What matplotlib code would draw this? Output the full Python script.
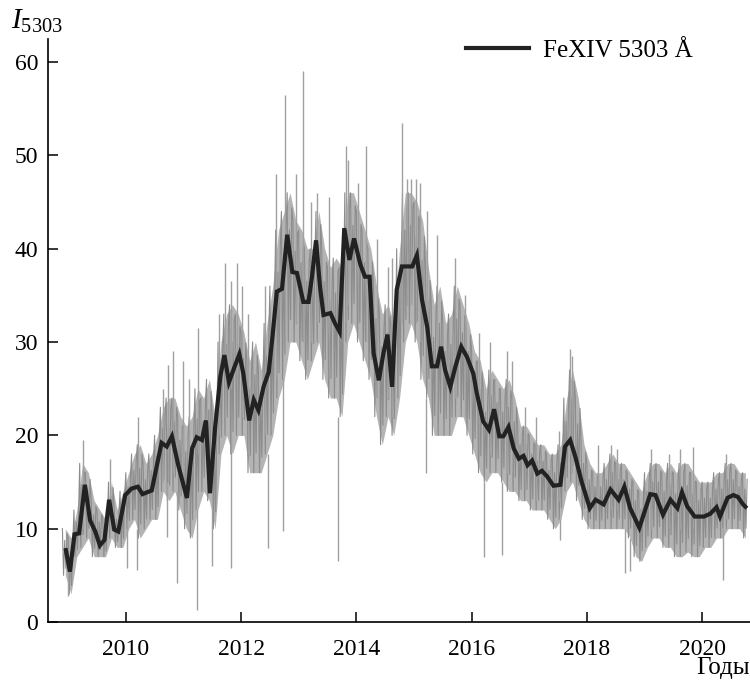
import numpy as np
import matplotlib
matplotlib.use("Agg")
import matplotlib.pyplot as plt

plt.rcParams['font.family'] = ['Liberation Serif', 'DejaVu Serif']
plt.rcParams['mathtext.fontset'] = 'custom'
plt.rcParams['mathtext.it'] = 'Liberation Serif:italic'
plt.rcParams['mathtext.rm'] = 'Liberation Serif'

# smoothed FeXIV 5303 curve (year, intensity)
smooth_t = [2008.96, 2009.03, 2009.11, 2009.19, 2009.29, 2009.38, 2009.47, 2009.55, 2009.63,
            2009.71, 2009.80, 2009.87, 2009.99, 2010.10, 2010.21, 2010.29, 2010.45, 2010.62,
            2010.71, 2010.80, 2010.91, 2011.06, 2011.15, 2011.23, 2011.32, 2011.39, 2011.46,
            2011.55, 2011.64, 2011.71, 2011.79, 2011.89, 2011.97, 2012.04, 2012.14, 2012.22,
            2012.30, 2012.39, 2012.48, 2012.55, 2012.62, 2012.71, 2012.80, 2012.89, 2012.97,
            2013.08, 2013.17, 2013.23, 2013.30, 2013.37, 2013.43, 2013.55, 2013.63, 2013.71,
            2013.79, 2013.88, 2013.96, 2014.07, 2014.15, 2014.23, 2014.30, 2014.39, 2014.47,
            2014.54, 2014.62, 2014.70, 2014.79, 2014.97, 2015.05, 2015.14, 2015.23, 2015.31,
            2015.40, 2015.47, 2015.54, 2015.63, 2015.72, 2015.82, 2015.92, 2016.03, 2016.09,
            2016.20, 2016.30, 2016.39, 2016.48, 2016.55, 2016.64, 2016.73, 2016.82, 2016.90,
            2016.97, 2017.05, 2017.14, 2017.22, 2017.31, 2017.42, 2017.54, 2017.62, 2017.71,
            2017.80, 2017.91, 2018.05, 2018.15, 2018.29, 2018.41, 2018.55, 2018.65, 2018.75,
            2018.91, 2019.01, 2019.10, 2019.19, 2019.32, 2019.45, 2019.57, 2019.65, 2019.74,
            2019.87, 2020.03, 2020.14, 2020.25, 2020.31, 2020.44, 2020.54, 2020.62, 2020.71,
            2020.75]
smooth_v = [7.7, 5.4, 9.4, 9.5, 14.7, 10.9, 9.7, 8.2, 8.8,
            13.1, 9.9, 9.7, 13.6, 14.3, 14.5, 13.7, 14.1, 19.2,
            18.8, 19.9, 16.8, 13.3, 18.6, 19.8, 19.5, 21.6, 13.8,
            20.9, 26.3, 28.6, 25.7, 27.4, 28.7, 26.6, 21.6, 23.8,
            22.7, 25.2, 26.8, 30.9, 35.4, 35.7, 41.5, 37.5, 37.4,
            34.3, 34.3, 37.0, 40.9, 35.9, 32.9, 33.1, 32.0, 31.1,
            42.2, 38.8, 41.1, 38.3, 37.0, 37.0, 28.8, 25.9, 28.8,
            30.8, 25.2, 35.6, 38.1, 38.1, 39.3, 34.5, 31.6, 27.4,
            27.4, 29.5, 27.0, 25.2, 27.4, 29.5, 28.4, 26.6, 24.5,
            21.5, 20.6, 22.8, 19.9, 19.9, 20.9, 18.6, 17.5, 17.8,
            16.8, 17.3, 15.9, 16.2, 15.6, 14.6, 14.7, 18.8, 19.5,
            17.7, 15.0, 12.2, 13.1, 12.6, 14.2, 13.1, 14.5, 12.2,
            10.1, 12.0, 13.7, 13.6, 11.5, 13.1, 12.2, 13.9, 12.4,
            11.3, 11.3, 11.6, 12.3, 11.3, 13.3, 13.6, 13.4, 12.6,
            12.35]

# daily data envelope, one pair per 0.1 year starting 2008.9
raw_start = 2008.9
raw_hi = [10,
          9, 12, 17, 16, 13, 12, 11, 15, 12, 14,
          16, 18, 19, 17, 18, 20, 23, 24, 24, 22,
          21, 22, 25, 24, 26, 22, 30, 33, 34, 33,
          31, 28, 30, 27, 32, 36, 42, 44, 46, 43,
          42, 40, 40, 44, 40, 38, 39, 38, 46, 46,
          44, 42, 40, 36, 33, 34, 32, 40, 46, 46,
          45, 43, 38, 34, 36, 32, 33, 36, 34, 32,
          29, 28, 25, 27, 26, 25, 26, 24, 21, 21,
          20, 19, 19, 18, 18, 19, 24, 27, 24, 19,
          17, 16, 16, 17, 18, 17, 17, 16, 15, 14,
          16, 17, 17, 16, 17, 16, 17, 17, 16, 15,
          15, 15, 16, 16, 17, 17, 16, 16]
raw_lo = [5,
          3, 7, 8, 9, 7, 7, 7, 9, 8, 8,
          10, 11, 9, 10, 11, 11, 14, 13, 14, 12,
          10, 9, 12, 14, 13, 10, 18, 20, 18, 20,
          20, 16, 16, 16, 18, 20, 24, 26, 30, 30,
          28, 26, 28, 30, 26, 24, 24, 22, 30, 32,
          30, 28, 26, 22, 19, 22, 20, 24, 30, 32,
          30, 26, 24, 20, 20, 20, 20, 22, 22, 20,
          18, 16, 15, 16, 16, 15, 14, 14, 13, 13,
          12, 12, 12, 11, 10, 11, 14, 15, 13, 11,
          10, 10, 10, 10, 10, 10, 10, 9, 7, 6.5,
          8, 9, 9, 8, 8, 7, 7, 7.5, 7, 7,
          8, 8, 9, 9, 10, 10, 10, 9]

# isolated daily outliers (year, from, to)
spike_t = [2009.00, 2009.25, 2009.72, 2010.02, 2010.20, 2010.21, 2010.65, 2010.72, 2010.74,
           2010.82, 2010.89, 2011.00, 2011.10, 2011.23, 2011.25, 2011.50, 2011.62, 2011.72,
           2011.82, 2011.83, 2011.93, 2012.02, 2012.12, 2012.42, 2012.46, 2012.60, 2012.72,
           2012.76, 2012.95, 2013.07, 2013.22, 2013.32, 2013.52, 2013.69, 2013.82, 2013.86,
           2014.02, 2014.17, 2014.35, 2014.55, 2014.62, 2014.80, 2014.88, 2014.95, 2015.03,
           2015.10, 2015.20, 2015.22, 2015.40, 2015.72, 2015.88, 2016.12, 2016.22, 2016.32,
           2016.53, 2016.62, 2016.70, 2016.92, 2017.12, 2017.52, 2017.53, 2017.70, 2017.75,
           2018.20, 2018.42, 2018.52, 2018.66, 2018.75, 2019.12, 2019.42, 2019.62, 2019.84,
           2020.36, 2020.42]
spike_lo = [2.8, 10, 10, 5.8, 5.6, 15, 15, 9.1, 15,
            16, 4.2, 16, 11, 1.3, 18, 6, 20, 22,
            5.8, 25, 22, 22, 18, 20, 7.9, 26, 9.7,
            30, 32, 30, 30, 32, 26, 6.5, 32, 34,
            32, 30, 24, 24, 22, 32, 34, 34, 32,
            30, 16, 26, 22, 24, 22, 18, 7, 18,
            7.2, 16, 16, 14, 13, 13, 8.8, 18, 16,
            12, 12, 12, 5.2, 5.5, 10, 10, 10, 10,
            4.5, 11]
spike_hi = [7, 19.5, 17.5, 11, 10, 22, 25, 15, 27.5,
            29, 14, 28, 26, 12, 31.5, 12, 33, 38.5,
            20, 36.5, 38.5, 36, 33, 36, 18, 48, 26,
            56.5, 48, 59, 45, 46, 45.5, 22, 51, 49.5,
            47, 51, 41, 38, 39, 53.5, 47.5, 47.5, 47.5,
            47, 24, 44, 41.5, 39, 35, 31, 15, 30,
            15, 29, 28, 23, 22, 20.5, 11, 29.3, 28.5,
            19, 19, 18.5, 10, 9, 18.5, 18, 18.5, 18.8,
            10, 18]

# zigzag through hi/lo pairs to mimic the dense daily trace
raw_t = []
raw_v = []
for i, (h, l) in enumerate(zip(raw_hi, raw_lo)):
    t0 = raw_start + 0.1 * i
    raw_t += [t0, t0 + 0.02, t0 + 0.04, t0 + 0.06, t0 + 0.08]
    raw_v += [h, l, h - 0.25 * (h - l), l + 0.15 * (h - l), h - 0.1 * (h - l)]
bin_t = [raw_start + 0.1 * i + 0.05 for i in range(len(raw_hi))]

fig = plt.figure(figsize=(7.5, 6.87), dpi=100)
ax = fig.add_axes([0.064, 0.0946, 0.936, 0.849])

ax.fill_between(bin_t, raw_lo, raw_hi, color='#b4b4b4', lw=0, zorder=0)
ax.plot(raw_t, raw_v, color='#8c8c8c', lw=0.8, zorder=1)
ax.vlines(spike_t, spike_lo, spike_hi, color='#a0a0a0', lw=1.0, zorder=1)
ax.plot(smooth_t, smooth_v, color='#222222', lw=3.0, zorder=3,
        solid_joinstyle='miter', label='FeXIV 5303 Å')

ax.set_xlim(2008.65, 2020.83)
ax.set_ylim(0, 62.5)
ax.set_xticks([2010, 2012, 2014, 2016, 2018, 2020])
ax.set_yticks([0, 10, 20, 30, 40, 50, 60])
ax.tick_params(direction='in', length=7, width=1.1, labelsize=17, pad=7)
ax.tick_params(axis='x', pad=12)
for s in ['top', 'right']:
    ax.spines[s].set_visible(False)
for s in ['left', 'bottom']:
    ax.spines[s].set_linewidth(1.2)

ax.text(-0.052, 1.03, r'$I_{\mathrm{5303}}$', transform=ax.transAxes,
        fontsize=21, ha='left', va='center')
ax.text(1.0, -0.079, 'Годы', transform=ax.transAxes, fontsize=18,
        ha='right', va='center')

ax.legend(loc='upper right', bbox_to_anchor=(0.95, 1.037), frameon=False,
          fontsize=18, handlelength=2.5, handletextpad=0.55)

fig.savefig('out.png', dpi=100)
